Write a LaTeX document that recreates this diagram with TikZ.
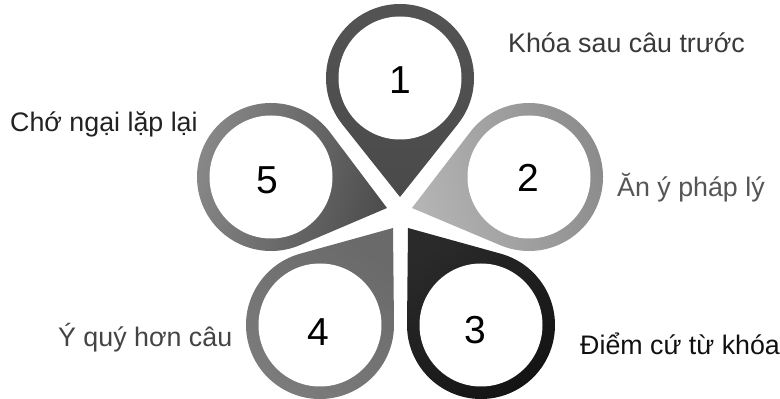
\documentclass[tikz,border=0pt]{standalone}
\usepackage{fontspec}
\setmainfont{Liberation Sans}
\usetikzlibrary{calc}
\definecolor{ringA}{HTML}{545454}\definecolor{tipA}{HTML}{4A4A4A}
\definecolor{ringB}{HTML}{8A8A8A}\definecolor{tipB}{HTML}{B4B4B4}
\definecolor{ringC}{HTML}{141414}\definecolor{tipC}{HTML}{2A2A2A}
\definecolor{ringD}{HTML}{7C7C7C}\definecolor{tipD}{HTML}{6A6A6A}
\definecolor{ringE}{HTML}{8A8A8A}\definecolor{tipE}{HTML}{4E4E4E}
\definecolor{txtA}{HTML}{3A3A3A}\definecolor{txtB}{HTML}{555555}
\definecolor{txtC}{HTML}{111111}\definecolor{txtD}{HTML}{444444}
\definecolor{txtE}{HTML}{222222}
% #1 name, #2 cx, #3 cy, #4 tx, #5 ty, #6 ring colour, #7 tip colour
\newcommand\drawpin[7]{%
  \coordinate (#1c) at (#2,#3);
  \coordinate (#1t) at (#4,#5);
  \pgfmathsetmacro\pinphi{atan2(#3-#5,#2-#4)}
  \pgfmathsetmacro\pinbeta{acos(74/veclen(#2-#4,#3-#5))}
  \pgfmathsetmacro\pinsa{\pinphi+180+\pinbeta}
  \pgfmathsetmacro\pinea{\pinphi+540-\pinbeta}
  \pgfmathsetmacro\pinsh{\pinphi-90}
  \shade[top color=#6, bottom color=#7, shading angle=\pinsh]
    (#1t) -- ($(#1c)+(\pinsa:74)$) arc[start angle=\pinsa, end angle=\pinea, radius=74] -- cycle;
  \fill[white] (#1c) circle[radius=61.5];
}
\begin{document}
\begin{tikzpicture}[x=1pt,y=1pt,
  lbl/.style={inner sep=0pt, anchor=base west, font=\fontsize{26.8}{32}\selectfont},
  num/.style={inner sep=0pt, font=\fontsize{39}{45}\selectfont, text=black}]
\fill[white] (0,0) rectangle (780,399);
\useasboundingbox (0,0) rectangle (780,399);
\drawpin{p1}{400}{321}{400}{202}{ringA}{tipA}
\drawpin{p2}{529}{222}{412}{191}{ringB}{tipB}
\drawpin{p3}{481}{74}{408}{171}{ringC}{tipC}
\drawpin{p4}{320}{74}{393}{171}{ringD}{tipD}
\drawpin{p5}{271}{222}{387}{191}{ringE}{tipE}
\node[num] (n1) at (400,319) {1};
\node[num] (n2) at (528,221) {2};
\node[num] (n3) at (475,69) {3};
\node[num] (n4) at (318,67) {4};
\node[num] (n5) at (267,219) {5};
\node[lbl, text=txtA] (l1) at (508,346) {Khóa sau câu trước};
\node[lbl, text=txtB] (l2) at (617,202) {Ăn ý pháp lý};
\node[lbl, text=txtC] (l3) at (580,44) {Điểm cứ từ khóa};
\node[lbl, text=txtD] (l4) at (58,52) {Ý quý hơn câu};
\node[lbl, text=txtE] (l5) at (10,267) {Chớ ngại lặp lại};
\end{tikzpicture}
\end{document}
